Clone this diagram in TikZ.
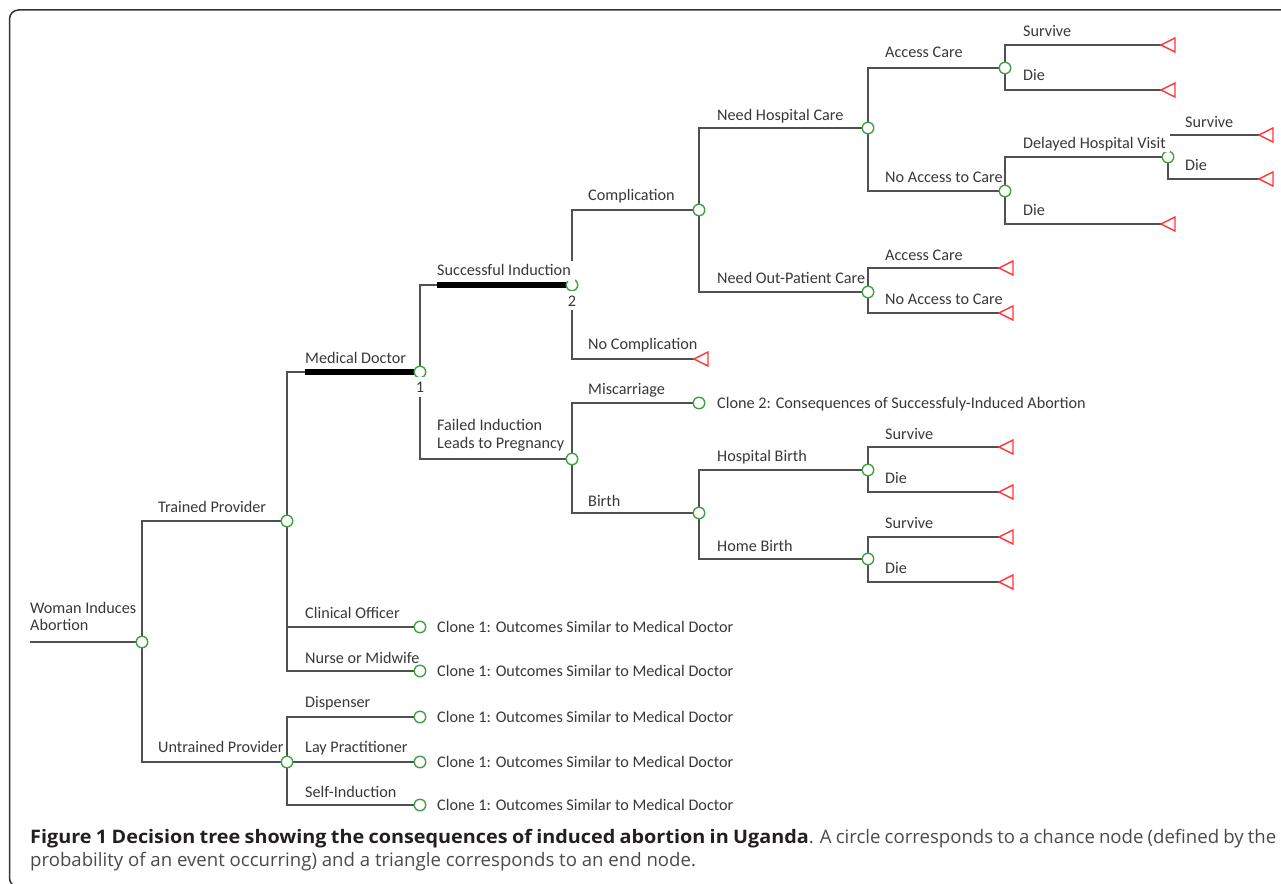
\documentclass[tikz,border=0pt]{standalone}
\usepackage{fontspec}
\setmainfont{Carlito}
\newfontfamily\capfont{Open Sans}
\newfontfamily\capfontwide{Open Sans}[FakeStretch=1.065]
\usetikzlibrary{backgrounds}
\definecolor{linegray}{HTML}{505050}
\definecolor{labeltext}{HTML}{383838}
\definecolor{chancegreen}{HTML}{3FA03F}
\definecolor{endred}{HTML}{FF3838}
\definecolor{framecol}{HTML}{333333}
\definecolor{capdark}{HTML}{231F20}
\definecolor{capgray}{HTML}{4A4A4A}
\newcommand\EndTri[3]{%
  \coordinate (#1) at (#2,#3);
  \draw[endtri] (#1) -- ++(14,-7) -- ++(0,14) -- cycle;}
\begin{document}
\begin{tikzpicture}[x=1pt,y=-1pt,
  edge/.style={draw=linegray, line width=1.8pt},
  boldedge/.style={draw=black, line width=5.5pt},
  chance/.style={circle, draw=chancegreen, fill=white, line width=1.4pt, minimum size=11.5pt, inner sep=0pt},
  endtri/.style={draw=endred, line width=1.4pt, fill=white, line join=miter},
  lbl/.style={anchor=base west, inner sep=0pt, text=labeltext, font=\fontsize{16.2}{18}\selectfont},
  mask/.style={fill=white},
]
\useasboundingbox (0,0) rectangle (1281,883);
\begin{scope}
  \clip (0,0) rectangle (1281,883);
  \draw[framecol, line width=1.5pt, rounded corners=9pt] (1300,10) -- (9.5,10) -- (9.5,887) -- (60,887);
\end{scope}

% ---- chance nodes ----
\coordinate (r0) at (30,642);
\node[chance] (R) at (142,642) {};
\node[chance] (TP) at (287,521) {};
\node[chance] (UP) at (287,762) {};
\node[chance] (MD) at (420,372) {};
\coordinate (MDk) at (305,372);
\node[chance] (CO) at (420,627) {};
\node[chance] (NM) at (420,671) {};
\node[chance] (DS) at (420,717) {};
\node[chance] (LP) at (420,762) {};
\node[chance] (SI) at (420,805) {};
\node[chance] (SUC) at (572,285) {};
\coordinate (SUCk) at (437,285);
\node[chance] (FAIL) at (572,459) {};
\node[chance] (COMP) at (699,210) {};
\node[chance] (MIS) at (699,403) {};
\node[chance] (BIR) at (699,513) {};
\node[chance] (NHC) at (868,128) {};
\node[chance] (NOP) at (868,292) {};
\node[chance] (HB) at (868,470) {};
\node[chance] (HOB) at (868,559) {};
\node[chance] (AC1) at (1005,68) {};
\node[chance] (NAC1) at (1005,191) {};
\node[chance] (DHV) at (1168,157) {};

% ---- end nodes ----
\EndTri{NOC}{694}{359}
\EndTri{ac1s}{1161}{45}
\EndTri{ac1d}{1161}{90}
\EndTri{nacd}{1161}{224}
\EndTri{dhvs}{1259}{135}
\EndTri{dhvd}{1259}{179}
\EndTri{nopa}{999}{268}
\EndTri{nopn}{999}{313}
\EndTri{hbs}{999}{447}
\EndTri{hbd}{999}{492}
\EndTri{hobs}{999}{537}
\EndTri{hobd}{999}{582}

% ---- connectors ----
\begin{pgfonlayer}{background}
\draw[edge] (r0) -- (R.center);
\draw[edge] (R.center) |- (TP.center);
\draw[edge] (R.center) |- (UP.center);
\draw[edge] (TP.center) |- (MDk);
\draw[boldedge] (MDk) -- (MD.center);
\draw[edge] (TP.center) |- (CO.center);
\draw[edge] (TP.center) |- (NM.center);
\draw[edge] (UP.center) |- (DS.center);
\draw[edge] (UP.center) -- (LP.center);
\draw[edge] (UP.center) |- (SI.center);
\draw[edge] (MD.center) |- (SUCk);
\draw[boldedge] (SUCk) -- (SUC.center);
\draw[edge] (MD.center) |- (FAIL.center);
\draw[edge] (SUC.center) |- (COMP.center);
\draw[edge] (SUC.center) |- (NOC);
\draw[edge] (FAIL.center) |- (MIS.center);
\draw[edge] (FAIL.center) |- (BIR.center);
\draw[edge] (COMP.center) |- (NHC.center);
\draw[edge] (COMP.center) |- (NOP.center);
\draw[edge] (BIR.center) |- (HB.center);
\draw[edge] (BIR.center) |- (HOB.center);
\draw[edge] (NHC.center) |- (AC1.center);
\draw[edge] (NHC.center) |- (NAC1.center);
\draw[edge] (AC1.center) |- (ac1s);
\draw[edge] (AC1.center) |- (ac1d);
\draw[edge] (NAC1.center) |- (DHV.center);
\draw[edge] (NAC1.center) |- (nacd);
\draw[edge] (DHV.center) |- (dhvs);
\draw[edge] (DHV.center) |- (dhvd);
\draw[edge] (NOP.center) |- (nopa);
\draw[edge] (NOP.center) |- (nopn);
\draw[edge] (HB.center) |- (hbs);
\draw[edge] (HB.center) |- (hbd);
\draw[edge] (HOB.center) |- (hobs);
\draw[edge] (HOB.center) |- (hobd);
\end{pgfonlayer}

% ---- labels ----
\node[lbl] (l-wia1) at (30,613) {Woman Induces};
\node[lbl] (l-wia2) at (30,630) {Abortion};
\node[lbl] (l-tp) at (158,512) {Trained Provider};
\node[lbl] (l-up) at (158,752) {Untrained Provider};
\node[lbl] (l-md) at (305,363) {Medical Doctor};
\node[lbl] (l-co) at (305,618) {Clinical Officer};
\node[lbl] (l-nm) at (305,663) {Nurse or Midwife};
\node[lbl] (l-ds) at (305,707) {Dispenser};
\node[lbl] (l-lp) at (305,752) {Lay Practitioner};
\node[lbl] (l-si) at (305,797) {Self-Induction};
\node[lbl] (k-co) at (437,632) {Clone 1: Outcomes Similar to Medical Doctor};
\node[lbl] (k-nm) at (437,676) {Clone 1: Outcomes Similar to Medical Doctor};
\node[lbl] (k-ds) at (437,722) {Clone 1: Outcomes Similar to Medical Doctor};
\node[lbl] (k-lp) at (437,767) {Clone 1: Outcomes Similar to Medical Doctor};
\node[lbl] (k-si) at (437,810) {Clone 1: Outcomes Similar to Medical Doctor};
\node[lbl, mask, inner xsep=4pt, text height=14pt, text depth=5.5pt] (l-suc) at (433,275) {Successful Induction};
\node[lbl, mask, anchor=base, inner xsep=3pt, text height=15.5pt, text depth=5pt] (n1) at (420,392) {1};
\node[lbl, mask, anchor=base, inner xsep=3pt, text height=15.5pt, text depth=4pt] (n2) at (572,306) {2};
\node[lbl] (l-fi1) at (437,430) {Failed Induction};
\node[lbl] (l-fi2) at (437,448) {Leads to Pregnancy};
\node[lbl] (l-comp) at (588,200) {Complication};
\node[lbl] (l-noc) at (588,349) {No Complication};
\node[lbl] (l-mis) at (588,394) {Miscarriage};
\node[lbl] (l-bir) at (588,506) {Birth};
\node[lbl] (k-mis) at (717,408) {Clone 2: Consequences of Successfuly-Induced Abortion};
\node[lbl] (l-nhc) at (717,120) {Need Hospital Care};
\node[lbl] (l-nop) at (717,283) {Need Out-Patient Care};
\node[lbl] (l-hb) at (717,461) {Hospital Birth};
\node[lbl] (l-hob) at (717,551) {Home Birth};
\node[lbl] (l-ac1) at (885,58) {Access Care};
\node[lbl] (l-nac1) at (885,182) {No Access to Care};
\node[lbl] (l-ac2) at (885,260) {Access Care};
\node[lbl] (l-nac2) at (885,304) {No Access to Care};
\node[lbl] (l-hbs) at (885,439) {Survive};
\node[lbl] (l-hbd) at (885,483) {Die};
\node[lbl] (l-hobs) at (885,528) {Survive};
\node[lbl] (l-hobd) at (885,573) {Die};
\node[lbl] (l-ac1s) at (1023,37) {Survive};
\node[lbl] (l-ac1d) at (1023,81) {Die};
\node[lbl, mask, inner xsep=4pt, text height=14pt, text depth=4pt] (l-dhv) at (1019,148) {Delayed Hospital Visit};
\node[lbl] (l-nacd) at (1023,215) {Die};
\node[lbl] (l-dhvs) at (1185,127) {Survive};
\node[lbl] (l-dhvd) at (1185,170) {Die};

% ---- caption ----
\node[anchor=base west, inner sep=0pt, text=capgray, font=\capfont\fontsize{18.6}{22}\selectfont] (cap1) at (30,843)
  {\makebox[1246pt][s]{{\capfontwide\bfseries\color{capdark}Figure 1 Decision tree showing the consequences of induced abortion in Uganda}. A circle corresponds to a chance node (defined by the}};
\node[anchor=base west, inner sep=0pt, text=capgray, font=\capfont\fontsize{18.6}{22}\selectfont] (cap2) at (30,866)
  {probability of an event occurring) and a triangle corresponds to an end node.};
\end{tikzpicture}
\end{document}
